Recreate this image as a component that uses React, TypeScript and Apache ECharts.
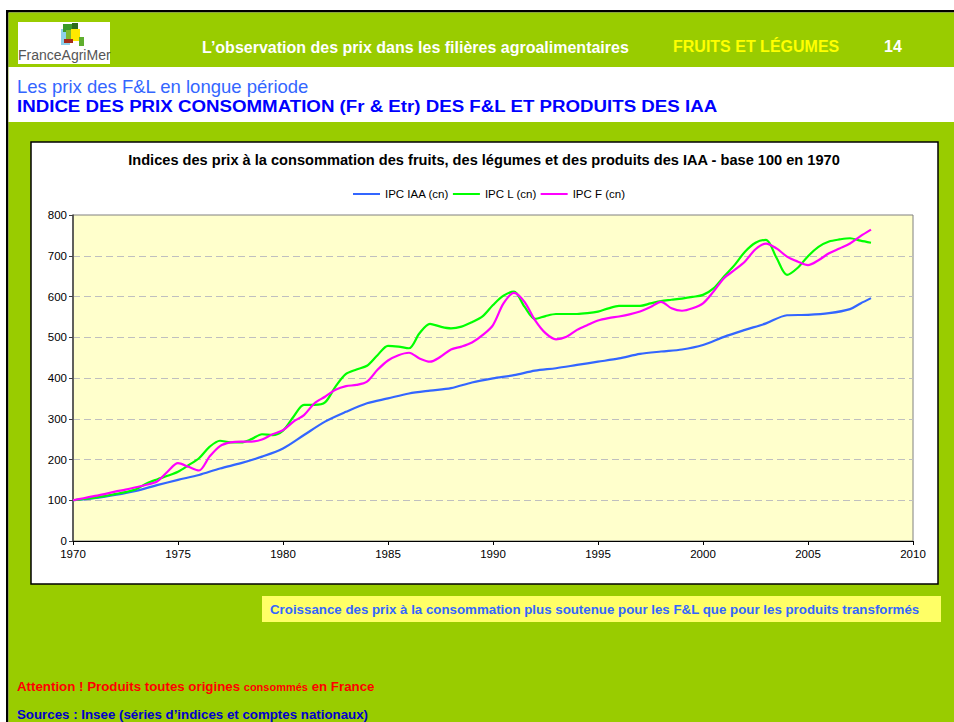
import React, { useEffect, useRef } from "react";
import * as echarts from "echarts";

// ---------- DATA ----------
const xTickLabels = ["1970", "1975", "1980", "1985", "1990", "1995", "2000", "2005", "2010"];
const yTickLabels = ["0", "100", "200", "300", "400", "500", "600", "700", "800"];

const seriesNames = ["IPC IAA (cn)", "IPC L (cn)", "IPC F (cn)"];
const seriesColors = ["#3366FF", "#00FF00", "#FF00FF"];

const annualYears = [
  1970, 1971, 1972, 1973, 1974, 1975, 1976, 1977, 1978, 1979,
  1980, 1981, 1982, 1983, 1984, 1985, 1986, 1987, 1988, 1989,
  1990, 1991, 1992, 1993, 1994, 1995, 1996, 1997, 1998, 1999,
  2000, 2001, 2002, 2003, 2004, 2005, 2006, 2007, 2007.5, 2008,
];
const ipcIAA = [
  100, 105, 113, 123, 137, 150, 162, 178, 191, 207,
  227, 260, 293, 317, 338, 350, 362, 369, 375, 389,
  399, 407, 418, 424, 432, 440, 448, 459, 465, 470,
  481, 501, 518, 534, 554, 555, 559, 569, 583, 596,
];

const halfYears = Array.from({ length: 77 }, (_, i) => 1970 + i * 0.5);
const ipcL = [
  100, 103, 106, 110, 115, 120, 127, 141, 151, 160,
  170, 186, 203, 231, 246, 242, 242, 250, 262, 260,
  271, 305, 334, 334, 340, 379, 410, 421, 430, 456,
  479, 477, 473, 510, 533, 526, 522, 526, 537, 551,
  579, 602, 612, 575, 545, 552, 557, 557, 557, 559,
  563, 571, 577, 577, 577, 583, 589, 592, 595, 599,
  604, 620, 649, 677, 710, 732, 739, 695, 653, 670,
  699, 722, 735, 740, 743, 737, 732,
];
const ipcF = [
  100, 105, 110, 115, 121, 126, 132, 138, 146, 170,
  191, 182, 173, 207, 233, 242, 244, 244, 249, 262,
  272, 293, 309, 338, 354, 371, 380, 383, 391, 420,
  443, 456, 462, 448, 440, 452, 470, 477, 487, 505,
  530, 583, 609, 587, 542, 510, 495, 501, 518, 530,
  541, 547, 551, 556, 563, 574, 587, 571, 565, 571,
  583, 612, 645, 665, 686, 716, 730, 718, 698, 686,
  677, 689, 706, 718, 730, 748, 764,
];

// ---------- TEXTS ----------
const headerText = "L’observation des prix dans les filières agroalimentaires";
const headerSection = "FRUITS ET LÉGUMES";
const pageNumber = "14";
const subTitle = "Les prix des F&L en longue période";
const mainTitle = "INDICE DES PRIX CONSOMMATION (Fr & Etr) DES F&L ET PRODUITS DES IAA";
const chartTitle =
  "Indices des prix à la consommation des fruits, des légumes et des produits des IAA - base 100 en 1970";
const commentText =
  "Croissance des prix à la consommation plus soutenue pour les F&L que pour les produits transformés";
const sourcesText = "Sources : Insee (séries d’indices et comptes nationaux)";

const FONT = "'Liberation Sans', Arial, sans-serif";

export default function App() {
  const ref = useRef<HTMLDivElement>(null);

  useEffect(() => {
    if (!ref.current) return;
    const chart = echarts.init(ref.current, null, { renderer: "svg" });

    const pair = (xs: number[], ys: number[]) => xs.map((x, i) => [x, ys[i]]);

    const bg = (o: any) => ({ type: "rect", z: -100, silent: true, ...o });
    const txt = (o: any) => ({ type: "text", z: 100, silent: true, ...o });

    const option: any = {
      animation: false,
      backgroundColor: "#ffffff",
      textStyle: { fontFamily: FONT },
      graphic: {
        elements: [
          bg({ shape: { x: 6, y: 10, width: 948, height: 2.5 }, style: { fill: "#000" } }),
          bg({ shape: { x: 6, y: 10, width: 2.5, height: 712 }, style: { fill: "#000" } }),
          bg({ shape: { x: 8.5, y: 12.5, width: 946, height: 710 }, style: { fill: "#99CC00" } }),
          bg({ shape: { x: 8.5, y: 67, width: 946, height: 55 }, style: { fill: "#ffffff" } }),
          bg({ shape: { x: 18, y: 22, width: 92, height: 42 }, style: { fill: "#ffffff" } }),
          bg({
            shape: { x: 31, y: 142, width: 907, height: 442 },
            style: { fill: "#ffffff", stroke: "#000", lineWidth: 1.5 },
          }),
          bg({ shape: { x: 262, y: 596, width: 679, height: 26 }, style: { fill: "#FFFF66" } }),
          // logo squares
          { type: "rect", z: 50, silent: true, shape: { x: 61, y: 29, width: 9, height: 16 }, style: { fill: "#8FD0EA" } },
          { type: "rect", z: 51, silent: true, shape: { x: 63, y: 24, width: 10, height: 8 }, style: { fill: "#3A9A2A" } },
          { type: "rect", z: 51, silent: true, shape: { x: 72, y: 23, width: 6, height: 6 }, style: { fill: "#2E6B1E" } },
          { type: "rect", z: 52, silent: true, shape: { x: 71, y: 29, width: 9, height: 12 }, style: { fill: "#FFE800" } },
          { type: "rect", z: 51, silent: true, shape: { x: 66, y: 30, width: 5, height: 9 }, style: { fill: "#7FB82E" } },
          { type: "rect", z: 53, silent: true, shape: { x: 64, y: 39, width: 9, height: 4 }, style: { fill: "#A52A1A" } },
          { type: "rect", z: 52, silent: true, shape: { x: 79, y: 37, width: 5, height: 9 }, style: { fill: "#5FAE2E" } },
          txt({ x: 18, y: 55, style: { text: "FranceAgriMer", fill: "#555555", font: `14px ${FONT}`, verticalAlign: "middle" } }),
          txt({ x: 202, y: 47, style: { text: headerText, fill: "#ffffff", font: `bold 16px ${FONT}`, verticalAlign: "middle" } }),
          txt({ x: 673, y: 46, style: { text: headerSection, fill: "#FFFF00", font: `bold 16px ${FONT}`, verticalAlign: "middle" } }),
          txt({ x: 884, y: 46, style: { text: pageNumber, fill: "#ffffff", font: `bold 16px ${FONT}`, verticalAlign: "middle" } }),
          txt({ x: 17, y: 86, style: { text: subTitle, fill: "#3366FF", font: `18.5px ${FONT}`, verticalAlign: "middle" } }),
          txt({ x: 17, y: 106, scaleX: 1.1, style: { text: mainTitle, fill: "#0000FF", font: `bold 17px ${FONT}`, verticalAlign: "middle" } }),
          txt({ x: 484, y: 160, style: { text: chartTitle, fill: "#000000", font: `bold 14.6px ${FONT}`, align: "center", verticalAlign: "middle" } }),
          txt({ x: 270, y: 609, style: { text: commentText, fill: "#3366FF", font: `bold 13.3px ${FONT}`, verticalAlign: "middle" } }),
          txt({
            x: 17,
            y: 686,
            style: {
              text: "{a|Attention ! Produits toutes origines }{b|consommés}{a| en France}",
              verticalAlign: "middle",
              rich: {
                a: { fill: "#FF0000", font: `bold 13.3px ${FONT}` },
                b: { fill: "#FF0000", font: `bold 11px ${FONT}`, verticalAlign: "bottom" },
              },
            },
          }),
          txt({ x: 17, y: 714, style: { text: sourcesText, fill: "#0000CC", font: `bold 13.3px ${FONT}`, verticalAlign: "middle" } }),
        ],
      },
      legend: {
        data: seriesNames.map((n) => ({ name: n, icon: "rect" })),
        top: 187,
        left: 353,
        padding: 0,
        itemWidth: 27,
        itemHeight: 2,
        itemGap: 4,
        textStyle: { fontSize: 11.5, color: "#000", fontFamily: FONT, lineHeight: 14 },
      },
      grid: {
        left: 73,
        top: 215,
        width: 840,
        height: 326,
        show: true,
        backgroundColor: "#FFFFCC",
        borderColor: "#808080",
        borderWidth: 1,
      },
      xAxis: {
        type: "value",
        min: 1970,
        max: 2010,
        interval: 5,
        axisLine: { show: true, lineStyle: { color: "#000", width: 1 } },
        axisTick: { show: true, length: 4, lineStyle: { color: "#000" } },
        axisLabel: {
          color: "#000",
          fontSize: 11.5,
          fontFamily: FONT,
          margin: 7,
          formatter: (v: number) => xTickLabels[Math.round((v - 1970) / 5)] ?? String(v),
        },
        splitLine: { show: false },
      },
      yAxis: {
        type: "value",
        min: 0,
        max: 800,
        interval: 100,
        axisLine: { show: true, lineStyle: { color: "#404040", width: 1.5 } },
        axisTick: { show: true, length: 4, lineStyle: { color: "#404040" } },
        axisLabel: {
          color: "#000",
          fontSize: 11.5,
          fontFamily: FONT,
          margin: 6,
          formatter: (v: number) => yTickLabels[Math.round(v / 100)] ?? String(v),
        },
        splitLine: {
          show: true,
          showMinLine: false,
          showMaxLine: false,
          lineStyle: { color: "#BFBFBF", type: [7, 4], width: 1 },
        },
      },
      series: [
        {
          name: seriesNames[0],
          type: "line",
          data: pair(annualYears, ipcIAA),
          symbol: "none",
          smooth: 0.3,
          lineStyle: { color: seriesColors[0], width: 2.2 },
          itemStyle: { color: seriesColors[0] },
        },
        {
          name: seriesNames[1],
          type: "line",
          data: pair(halfYears, ipcL),
          symbol: "none",
          smooth: 0.3,
          lineStyle: { color: seriesColors[1], width: 2.2 },
          itemStyle: { color: seriesColors[1] },
        },
        {
          name: seriesNames[2],
          type: "line",
          data: pair(halfYears, ipcF),
          symbol: "none",
          smooth: 0.3,
          lineStyle: { color: seriesColors[2], width: 2.2 },
          itemStyle: { color: seriesColors[2] },
        },
      ],
    };

    chart.setOption(option);
    return () => chart.dispose();
  }, []);

  return (
    <div
      ref={ref}
      style={{ position: "fixed", left: 0, top: 0, width: 954, height: 722 }}
    />
  );
}
